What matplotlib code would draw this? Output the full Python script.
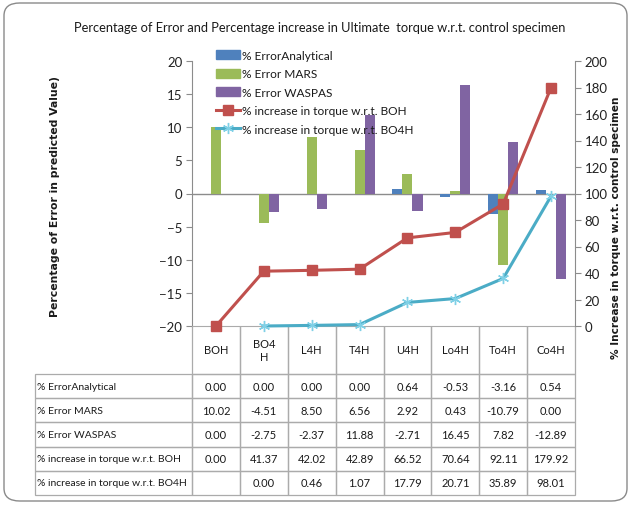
import numpy as np
import matplotlib
matplotlib.use("Agg")
import matplotlib.pyplot as plt
from matplotlib.table import Table
from matplotlib.patches import FancyBboxPatch
from matplotlib.lines import Line2D

categories = ["BOH", "BO4H", "L4H", "T4H", "U4H", "Lo4H", "To4H", "Co4H"]
header_labels = ["BOH", "BO4\nH", "L4H", "T4H", "U4H", "Lo4H", "To4H", "Co4H"]
err_analytical = [0.00, 0.00, 0.00, 0.00, 0.64, -0.53, -3.16, 0.54]
err_mars = [10.02, -4.51, 8.50, 6.56, 2.92, 0.43, -10.79, 0.00]
err_waspas = [0.00, -2.75, -2.37, 11.88, -2.71, 16.45, 7.82, -12.89]
inc_boh = [0.00, 41.37, 42.02, 42.89, 66.52, 70.64, 92.11, 179.92]
inc_bo4h = [None, 0.00, 0.46, 1.07, 17.79, 20.71, 35.89, 98.01]
series_names = ["% ErrorAnalytical", "% Error MARS", "% Error WASPAS",
                "% increase in torque w.r.t. BOH", "% increase in torque w.r.t. BO4H"]

C_BLUE, C_GREEN, C_PURPLE = "#4F81BD", "#9BBB59", "#8064A2"
C_RED, C_CYAN = "#C0504D", "#4BACC6"
AXC = "#8C8C8C"
GRID = "#ABABAB"
FONT = "Lato"
FS_TICK = 9.5
FS_TXT = 8.0
FS_ROWLAB = 7.5
FS_TITLE = 9.3

W, H = 631, 506
fig = plt.figure(figsize=(W / 100, H / 100), dpi=100)

# rounded outer frame
fig.patches.append(FancyBboxPatch((4 / W, 4 / H), 1 - 8 / W, 1 - 8 / H,
                                  boxstyle="round,pad=0,rounding_size=0.025",
                                  transform=fig.transFigure, fc="white",
                                  ec="#8A8A8A", lw=1.0, zorder=-10))

px0, px1, py_top, py_bot = 192, 575, 62, 327
ax = fig.add_axes([px0 / W, 1 - py_bot / H, (px1 - px0) / W, (py_bot - py_top) / H])
ax.set_facecolor("none")

n = len(categories)
x = np.arange(n) + 0.5
bw = 0.21
ax.bar(x - bw, err_analytical, bw, color=C_BLUE, zorder=2)
ax.bar(x, err_mars, bw, color=C_GREEN, zorder=2)
ax.bar(x + bw, err_waspas, bw, color=C_PURPLE, zorder=2)
ax.axhline(0, color=AXC, lw=1.0, zorder=1)

ax.set_xlim(0, n)
ax.set_ylim(-20, 20)
ax.set_yticks(np.arange(-20, 21, 5))
ax.set_xticks([])
for s in ["top", "right"]:
    ax.spines[s].set_visible(False)
ax.spines["left"].set_color(AXC)
ax.spines["bottom"].set_color(GRID)
ax.tick_params(axis="y", length=4, color=AXC, pad=3, labelsize=FS_TICK, labelcolor="#222222")
for t in ax.get_yticklabels():
    t.set_fontfamily(FONT)

ax2 = ax.twinx()
ax2.set_ylim(0, 200)
ax2.set_yticks(np.arange(0, 201, 20))
for s in ["top", "left", "bottom"]:
    ax2.spines[s].set_visible(False)
ax2.spines["right"].set_color(AXC)
ax2.tick_params(axis="y", length=4, color=AXC, pad=3, labelsize=FS_TICK, labelcolor="#222222")
for t in ax2.get_yticklabels():
    t.set_fontfamily(FONT)

y_boh = np.array(inc_boh, dtype=float)
y_bo4h = np.array([np.nan if v is None else v for v in inc_bo4h], dtype=float)
ax2.plot(x, y_boh, color=C_RED, lw=2.2, marker="s", ms=7.5, mfc=C_RED, mec=C_RED,
         clip_on=False, zorder=3)
ax2.plot(x, y_bo4h, color=C_CYAN, lw=2.2, marker=(6, 2, 0), ms=8, mec="#7FD0E6",
         mew=1.0, clip_on=False, zorder=3)

# data table under the plot
tbl_left, tbl_bottom = 35, 496
hdr_h, row_h = 48, 24.2
lab_w = px0 - tbl_left
col_w = (px1 - px0) / n
ax_w, ax_h = px1 - px0, py_bot - py_top
tot_w = px1 - tbl_left
tot_h = hdr_h + 5 * row_h
table = Table(ax, bbox=[(tbl_left - px0) / ax_w, (py_bot - tbl_bottom) / ax_h,
                        tot_w / ax_w, tot_h / ax_h])
rows = [err_analytical, err_mars, err_waspas, inc_boh, inc_bo4h]
for j, lab in enumerate(header_labels):
    c = table.add_cell(0, j + 1, width=col_w, height=hdr_h, text=lab, loc="center")
    c.visible_edges = "LRB"
for i, (name, vals) in enumerate(zip(series_names, rows)):
    c = table.add_cell(i + 1, 0, width=lab_w, height=row_h, text=name, loc="left")
    c.PAD = 0.012
    for j, v in enumerate(vals):
        txt = "" if v is None else f"{v:.2f}"
        table.add_cell(i + 1, j + 1, width=col_w, height=row_h, text=txt, loc="center")
table.auto_set_font_size(False)
for (r, cidx), cell in table.get_celld().items():
    cell.set_edgecolor(GRID)
    cell.set_linewidth(0.9)
    cell.set_facecolor("none")
    t = cell.get_text()
    t.set_fontfamily(FONT)
    t.set_fontsize(FS_ROWLAB if cidx == 0 else FS_TXT)
    t.set_color("#1A1A1A")
ax.add_table(table)

# legend
handles = [
    plt.Rectangle((0, 0), 1, 1, color=C_BLUE),
    plt.Rectangle((0, 0), 1, 1, color=C_GREEN),
    plt.Rectangle((0, 0), 1, 1, color=C_PURPLE),
    Line2D([], [], color=C_RED, lw=2.2, marker="s", ms=7.5),
    Line2D([], [], color=C_CYAN, lw=2.2, marker=(6, 2, 0), ms=8, mec="#7FD0E6", mew=1.0),
]
leg = ax2.legend(handles, series_names, loc="upper left",
                 bbox_to_anchor=(216 / W, 1 - 51 / H), bbox_transform=fig.transFigure,
                 frameon=False, handlelength=2.0, handleheight=0.75,
                 handletextpad=0.2, labelspacing=0.62, borderpad=0, borderaxespad=0,
                 prop={"family": FONT, "size": FS_TXT + 0.6})
for t in leg.get_texts():
    t.set_color("#1A1A1A")

fig.text(320 / W, 1 - 28 / H,
         "Percentage of Error and Percentage increase in Ultimate  torque w.r.t. control specimen",
         ha="center", va="center", fontsize=FS_TITLE, family=FONT, color="#1A1A1A")
fig.text(55 / W, 1 - 197 / H, "Percentage of Error in predicted Value)", rotation=90,
         ha="center", va="center", fontsize=7.8, fontweight="bold", family="DejaVu Sans",
         color="#1A1A1A")
fig.text(616 / W, 1 - 228 / H, "% Increase in torque w.r.t. control specimen", rotation=90,
         ha="center", va="center", fontsize=7.6, fontweight="bold", family="DejaVu Sans",
         color="#1A1A1A")

fig.savefig("out.png", dpi=100)
